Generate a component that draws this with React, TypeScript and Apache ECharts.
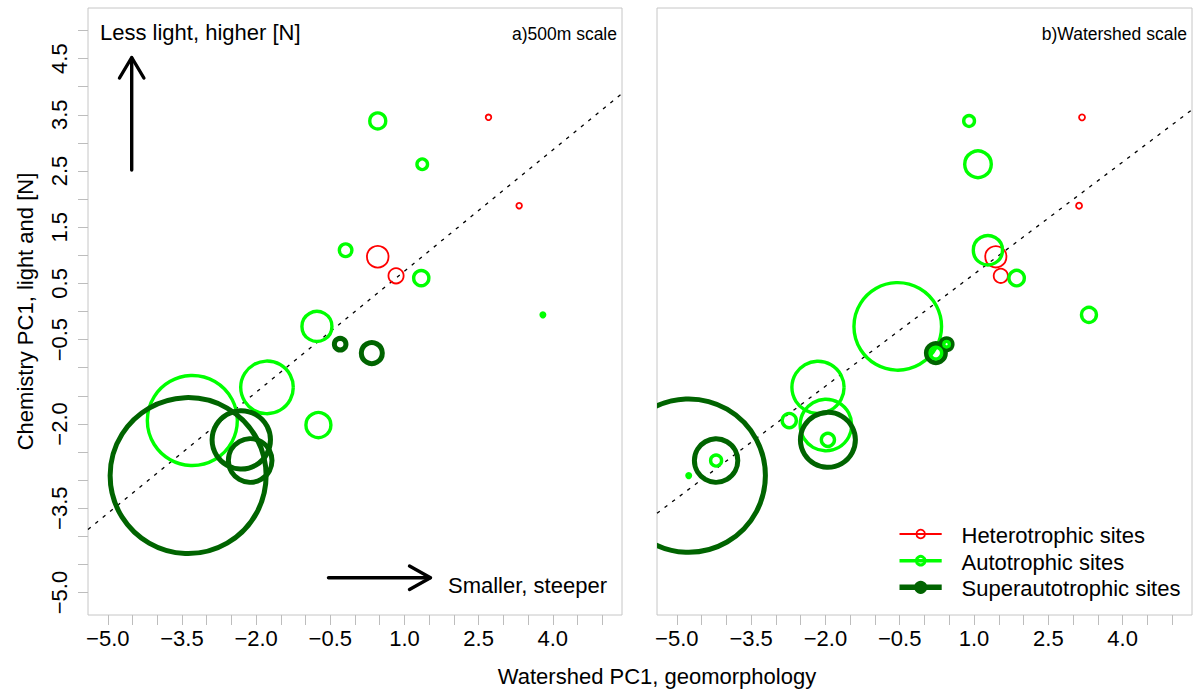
import React, { useEffect, useRef } from "react";
import * as echarts from "echarts";

// ---------------- data ----------------
// Chemistry PC1 (y) is shared by both panels; x is Watershed PC1 at the 500 m
// scale (panel a) or at the whole-watershed scale (panel b). Size = bubble radius value.
const heteroY = [3.455, 1.882, 0.974, 0.635];
const hetero500X = [2.7, 3.32, 0.46, 0.83];
const heteroWsX = [3.18, 3.12, 1.44, 1.54];
const hetero500S = [3.7, 3.7, 11.7, 8.5];
const heteroWsS = [3.9, 3.9, 11.5, 8.0];

const autoY = [3.39, 2.62, 1.09, 0.594, -0.06, -0.265, -1.94, -1.35, -2.02];
const auto500X = [0.46, 1.36, -0.19, 1.34, 3.8, -0.77, -3.29, -1.78, -0.74];
const autoWsX = [0.9, 1.08, 1.28, 1.86, 3.32, -0.54, -2.73, -2.15, -1.99];
const auto500S = [9.7, 7.0, 8.0, 9.3, 3.5, 16.7, 46.7, 28.0, 14.2];
const autoWsS = [7.1, 15.0, 16.3, 9.4, 9.2, 45.5, 8.8, 27.8, 27.5];

const superY = [-0.582, -0.74, -2.92, -2.284, -2.652];
const super500X = [-0.3, 0.34, -3.375, -2.3, -2.12];
const superWsX = [0.446, 0.23, -4.76, -1.95, -4.207];
const super500S = [8.3, 13.0, 80.5, 31.7, 24.3];
const superWsS = [8.0, 12.0, 79.2, 30.0, 24.2];
const superWsAutoS = [4.5, 7.5, 3.5, 8.3, 7.2];

const fit500 = [
  [-5.4, -3.88],
  [5.4, 3.88],
];
const fitWs = [
  [-5.4, -3.59],
  [5.4, 3.59],
];

const xTickValues = [-5, -4.5, -4, -3.5, -3, -2.5, -2, -1.5, -1, -0.5, 0, 0.5, 1, 1.5, 2, 2.5, 3, 3.5, 4, 4.5, 5];
const xLabelValues = [-5, -3.5, -2, -0.5, 1, 2.5, 4];
const yTickValues = xTickValues;
const yLabelValues = [-5, -3.5, -2, -0.5, 0.5, 1.5, 2.5, 3.5, 4.5];

const panelTitles = ["a)500m scale", "b)Watershed scale"];
const legendLabels = ["Heterotrophic sites", "Autotrophic sites", "Superautotrophic sites"];

// ---------------- styling ----------------
const RED = "#ff0000";
const GREEN = "#00ff00";
const DARK = "#006400";
const FONT = "'Liberation Sans', Arial, Helvetica, sans-serif";
const BOX = "#c6c6c6";
const FS = 22;
const LW_RED = 1.8;
const LW_GREEN = 3.4;
const LW_DARK = 5;

const zip3 = (xs: number[], ys: number[], ss: number[]) => xs.map((x, i) => [x, ys[i], ss[i]]);

const fmt = (v: number) => (v < 0 ? "\u2212" : "") + Math.abs(v).toFixed(1);

function circleSeries(name: string, idx: number, data: number[][], color: string, lw: number) {
  return {
    type: "custom",
    name,
    xAxisIndex: idx,
    yAxisIndex: idx,
    clip: true,
    encode: { x: 0, y: 1 },
    data,
    renderItem: (_p: any, api: any) => {
      const pt = api.coord([api.value(0), api.value(1)]);
      const r = Math.max(api.value(2) - lw / 2, 0.8);
      return {
        type: "circle",
        shape: { cx: pt[0], cy: pt[1], r },
        style: { fill: "none", stroke: color, lineWidth: lw },
      };
    },
    z: 3,
  };
}

function fitSeries(idx: number, data: number[][]) {
  return {
    type: "line",
    xAxisIndex: idx,
    yAxisIndex: idx,
    data,
    symbol: "none",
    silent: true,
    lineStyle: { color: "#000", width: 1.3, type: [3.5, 6] },
    z: 2,
  };
}

function xAxisCfg(idx: number) {
  return {
    type: "value",
    gridIndex: idx,
    min: -5.4,
    max: 5.4,
    axisLine: { show: false, onZero: false },
    splitLine: { show: false },
    axisTick: { show: true, length: 10, customValues: xTickValues, lineStyle: { color: "#bdbdbd", width: 1 } },
    axisLabel: {
      customValues: xLabelValues,
      formatter: fmt,
      fontSize: FS,
      color: "#000",
      fontFamily: FONT,
      margin: 12,
    },
  };
}

export default function App() {
  const ref = useRef<HTMLDivElement>(null);

  useEffect(() => {
    if (!ref.current) return;
    const chart = echarts.init(ref.current, undefined, { renderer: "svg" });

    const legendRows = [
      { y: 534, color: RED, lw: 2, cw: LW_RED },
      { y: 560.7, color: GREEN, lw: 3.6, cw: 3 },
      { y: 587.3, color: DARK, lw: 5.5, cw: 4.5 },
    ];

    const graphic: any[] = [
      // axis titles
      {
        type: "text",
        x: 657,
        y: 676,
        style: { text: "Watershed PC1, geomorphology", font: `${FS}px ${FONT}`, fill: "#000", align: "center", verticalAlign: "middle" },
      },
      {
        type: "text",
        x: 25,
        y: 311.5,
        rotation: Math.PI / 2,
        style: { text: "Chemistry PC1, light and [N]", font: `${FS}px ${FONT}`, fill: "#000", align: "center", verticalAlign: "middle" },
      },
      // panel titles
      {
        type: "text",
        x: 617,
        y: 34,
        style: { text: panelTitles[0], font: `17.5px ${FONT}`, fill: "#000", align: "right", verticalAlign: "middle" },
      },
      {
        type: "text",
        x: 1187,
        y: 34,
        style: { text: panelTitles[1], font: `17.5px ${FONT}`, fill: "#000", align: "right", verticalAlign: "middle" },
      },
      // annotation arrows
      {
        type: "text",
        x: 100,
        y: 32,
        style: { text: "Less light, higher [N]", font: `${FS}px ${FONT}`, fill: "#000", align: "left", verticalAlign: "middle" },
      },
      { type: "line", shape: { x1: 131.7, y1: 170, x2: 131.7, y2: 58 }, style: { stroke: "#000", lineWidth: 3.4, lineCap: "round" } },
      {
        type: "polyline",
        shape: { points: [[119.5, 78], [131.7, 57.5], [143.9, 78]] },
        style: { stroke: "#000", lineWidth: 3.4, fill: "none", lineCap: "round", lineJoin: "round" },
      },
      {
        type: "text",
        x: 448,
        y: 585,
        style: { text: "Smaller, steeper", font: `${FS}px ${FONT}`, fill: "#000", align: "left", verticalAlign: "middle" },
      },
      { type: "line", shape: { x1: 328.5, y1: 577.7, x2: 430, y2: 577.7 }, style: { stroke: "#000", lineWidth: 3.4, lineCap: "round" } },
      {
        type: "polyline",
        shape: { points: [[409.5, 566], [430.5, 577.7], [409.5, 589.4]] },
        style: { stroke: "#000", lineWidth: 3.4, fill: "none", lineCap: "round", lineJoin: "round" },
      },
    ];

    legendRows.forEach((r, i) => {
      graphic.push({
        type: "line",
        shape: { x1: 899.5, y1: r.y, x2: 941.7, y2: r.y },
        style: { stroke: r.color, lineWidth: r.lw },
      });
      graphic.push({
        type: "circle",
        shape: { cx: 920.7, cy: r.y, r: 4.3 },
        style: { stroke: r.color, lineWidth: r.cw, fill: "none" },
      });
      graphic.push({
        type: "text",
        x: 961.5,
        y: r.y + 1.5,
        style: { text: legendLabels[i], font: `${FS}px ${FONT}`, fill: "#000", align: "left", verticalAlign: "middle" },
      });
    });

    const option: any = {
      animation: false,
      backgroundColor: "#ffffff",
      textStyle: { fontFamily: FONT },
      grid: [
        { left: 88, top: 8, width: 534, height: 607, show: true, borderColor: BOX, borderWidth: 1, backgroundColor: "transparent" },
        { left: 657, top: 8, width: 535, height: 607, show: true, borderColor: BOX, borderWidth: 1, backgroundColor: "transparent" },
      ],
      xAxis: [xAxisCfg(0), xAxisCfg(1)],
      yAxis: [
        {
          type: "value",
          gridIndex: 0,
          min: -5.4,
          max: 5.4,
          axisLine: { show: false, onZero: false },
          splitLine: { show: false },
          axisTick: { show: true, length: 10, customValues: yTickValues, lineStyle: { color: "#bdbdbd", width: 1 } },
          axisLabel: {
            customValues: yLabelValues,
            formatter: fmt,
            rotate: 90,
            fontSize: FS,
            color: "#000",
            fontFamily: FONT,
            margin: 18,
          },
        },
        { type: "value", gridIndex: 1, min: -5.4, max: 5.4, show: false, splitLine: { show: false } },
      ],
      series: [
        fitSeries(0, fit500),
        fitSeries(1, fitWs),
        circleSeries("Heterotrophic sites", 0, zip3(hetero500X, heteroY, hetero500S), RED, LW_RED),
        circleSeries("Autotrophic sites", 0, zip3(auto500X, autoY, auto500S), GREEN, LW_GREEN),
        circleSeries("Superautotrophic sites", 0, zip3(super500X, superY, super500S), DARK, LW_DARK),
        circleSeries("Heterotrophic sites", 1, zip3(heteroWsX, heteroY, heteroWsS), RED, LW_RED),
        circleSeries("Autotrophic sites", 1, zip3(autoWsX, autoY, autoWsS), GREEN, LW_GREEN),
        circleSeries("Superautotrophic sites", 1, zip3(superWsX, superY, superWsS), DARK, LW_DARK),
        circleSeries("Autotrophic sites", 1, zip3(superWsX, superY, superWsAutoS), GREEN, LW_GREEN),
      ],
      graphic,
    };

    chart.setOption(option);
    return () => chart.dispose();
  }, []);

  return <div ref={ref} style={{ position: "absolute", left: 0, top: 0, width: 1198, height: 692 }} />;
}
